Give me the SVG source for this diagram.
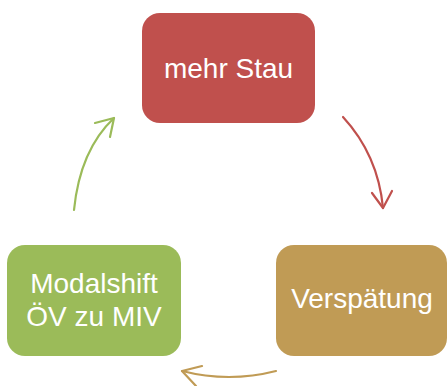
<svg xmlns="http://www.w3.org/2000/svg" width="447" height="386" viewBox="0 0 447 386">
<style>
.lbl{font-family:"Liberation Sans",Arial,sans-serif;font-size:28px;fill:#ffffff;text-anchor:middle}
.con{fill:none;stroke-width:2.2;stroke-linecap:round;stroke-linejoin:round}
</style>
<rect width="447" height="386" fill="#ffffff"/>
<g id="node-stau">
<rect x="142" y="13" width="173" height="110" rx="18" fill="#C0504D"/>
<text class="lbl" x="228.5" y="78">mehr Stau</text>
</g>
<g id="node-verspaetung">
<rect x="276" y="245" width="171" height="111" rx="18" fill="#C09B55"/>
<text class="lbl" x="362" y="308">Verspätung</text>
</g>
<g id="node-modalshift">
<rect x="7" y="245" width="174" height="111" rx="18" fill="#9BBB59"/>
<text class="lbl" x="94" y="293">Modalshift</text>
<text class="lbl" x="94" y="326">ÖV zu MIV</text>
</g>
<g id="connectors">
<g stroke="#C0504D" class="con">
<path d="M343,117 Q378,155 383,208"/>
<polyline points="372,193 383,208 392,191"/>
</g>
<g stroke="#C09B55" class="con">
<path d="M276,371 Q229,383 182,371"/>
<polyline points="202,366 182,371 196,386"/>
</g>
<g stroke="#9BBB59" class="con">
<path d="M74,210 Q80,150 114,118"/>
<polyline points="95,123 114,118 110,137"/>
</g>
</g>
</svg>
